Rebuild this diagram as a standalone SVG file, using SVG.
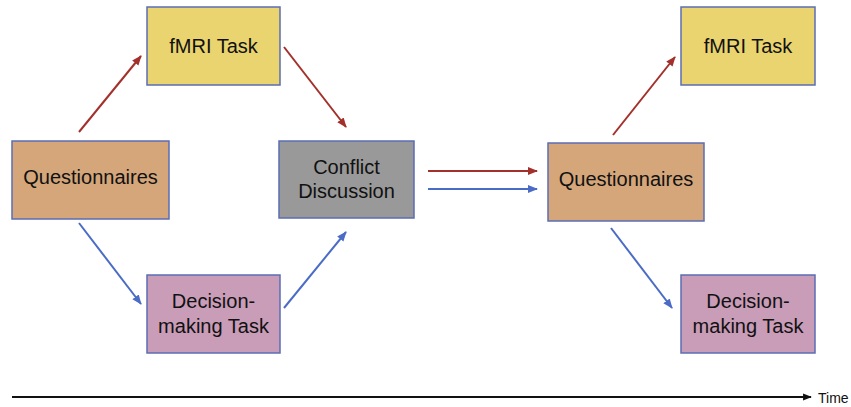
<svg xmlns="http://www.w3.org/2000/svg" width="851" height="407" viewBox="0 0 851 407">
<defs>
<marker id="ar" viewBox="0 0 10 10" refX="9" refY="5" markerWidth="5" markerHeight="5" orient="auto" markerUnits="strokeWidth"><path d="M0,1 L10,5 L0,9 z" fill="#A3302B"/></marker>
<marker id="ab" viewBox="0 0 10 10" refX="9" refY="5" markerWidth="5" markerHeight="5" orient="auto" markerUnits="strokeWidth"><path d="M0,1 L10,5 L0,9 z" fill="#4A6CC6"/></marker>
<marker id="ak" viewBox="0 0 10 10" refX="9" refY="5" markerWidth="4" markerHeight="4" orient="auto" markerUnits="strokeWidth"><path d="M0,1 L10,5 L0,9 z" fill="#111"/></marker>
</defs>
<style>
.box{stroke:#5B6DB5;stroke-width:1.5}
.y{fill:#EAD46F}.o{fill:#D4A67A}.g{fill:#999999}.p{fill:#C99CB8}
text{font-family:"Liberation Sans",Arial,sans-serif;font-size:20px;fill:#111;text-anchor:middle}
.r{stroke:#A3302B;stroke-width:2;fill:none;marker-end:url(#ar)}
.b{stroke:#4A6CC6;stroke-width:2;fill:none;marker-end:url(#ab)}
</style>
<rect width="851" height="407" fill="#fff"/>
<g id="connectors">
<line class="r" x1="79" y1="132" x2="141" y2="56"/>
<line class="r" x1="284" y1="47" x2="346" y2="127"/>
<line class="b" x1="79" y1="223" x2="141" y2="304"/>
<line class="b" x1="284" y1="308" x2="346" y2="232"/>
<line class="r" x1="428" y1="171" x2="537" y2="171"/>
<line class="b" x1="428" y1="189" x2="537" y2="189"/>
<line class="r" x1="613" y1="135" x2="675" y2="57"/>
<line class="b" x1="611" y1="228" x2="672" y2="308"/>
<line x1="12" y1="397" x2="811" y2="397" stroke="#111" stroke-width="2.2" marker-end="url(#ak)"/>
</g>
<g id="fmri1"><rect class="box y" x="147" y="7" width="133" height="78"/><text x="213.5" y="53">fMRI Task</text></g>
<g id="quest1"><rect class="box o" x="12" y="141" width="157" height="78"/><text x="90.5" y="184">Questionnaires</text></g>
<g id="conflict"><rect class="box g" x="279" y="141" width="135" height="77"/><text x="346.5" y="174">Conflict</text><text x="346.5" y="198">Discussion</text></g>
<g id="decision1"><rect class="box p" x="147" y="275" width="133" height="78"/><text x="213.5" y="308">Decision-</text><text x="213.5" y="333">making Task</text></g>
<g id="quest2"><rect class="box o" x="548" y="143" width="156" height="78"/><text x="626" y="186">Questionnaires</text></g>
<g id="fmri2"><rect class="box y" x="681" y="7" width="134" height="78"/><text x="748" y="53">fMRI Task</text></g>
<g id="decision2"><rect class="box p" x="681" y="275" width="134" height="78"/><text x="748" y="308">Decision-</text><text x="748" y="333">making Task</text></g>
<g id="time"><text x="818" y="403" style="font-size:14px;text-anchor:start">Time</text></g>
</svg>
